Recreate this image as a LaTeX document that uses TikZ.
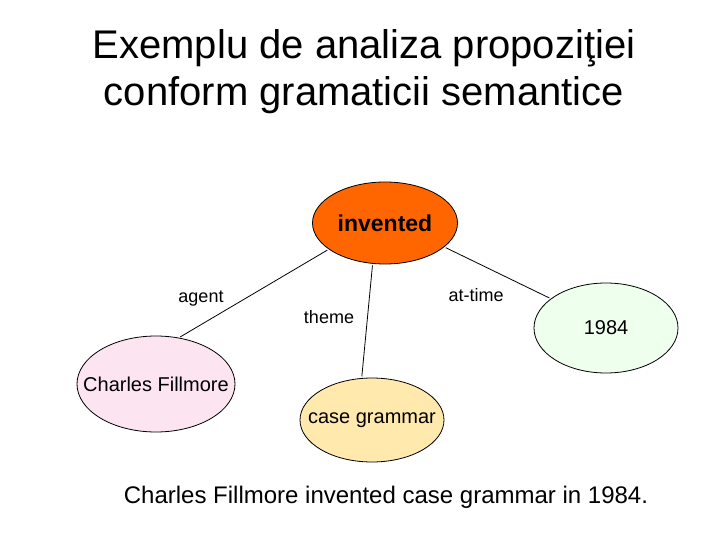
\documentclass[tikz,border=0pt]{standalone}
\usepackage{fontspec}
\setmainfont{Liberation Sans}
\usetikzlibrary{shapes.geometric}

\definecolor{inventedfill}{RGB}{255,102,0}
\definecolor{agentfill}{RGB}{253,228,241}
\definecolor{themefill}{RGB}{255,233,173}
\definecolor{timefill}{RGB}{238,255,238}

\begin{document}
\begin{tikzpicture}[
  x=1pt,
  y=-1pt,
  inner sep=0pt,
  outer sep=0pt,
  concept/.style={
    ellipse,
    draw,
    line width=.8pt,
    label={[font=\fontsize{20}{24}\selectfont]center:#1},
  },
  role/.style={
    anchor=base,
    font=\fontsize{18}{22}\selectfont,
  },
  link/.style={
    draw,
    line width=.8pt,
    shorten <=2pt,
    shorten >=2pt,
  },
]
  \useasboundingbox (0, 0) rectangle (720, 540);

  % title
  \path[every node/.append style={anchor=base, font=\fontsize{40}{46}\selectfont}]
    (364, 59) node (title1) {Exemplu de analiza propoziţiei}
    (364, 106) node (title2) {conform gramaticii semantice}
  ;

  % concepts
  \node[concept={}, fill=inventedfill, minimum width=145, minimum height=82,
    label={[font=\fontsize{23}{26}\selectfont\bfseries]center:invented}]
    (invented) at (385, 223) {};
  \node[concept=Charles Fillmore, fill=agentfill, minimum width=158, minimum height=96]
    (charles) at (156, 384) {};
  \node[concept=case grammar, fill=themefill, minimum width=144, minimum height=84]
    (grammar) at (372, 420) {};
  \node[concept=1984, fill=timefill, minimum width=144, minimum height=90]
    (year) at (606, 328) {};

  % links
  \path[link] (invented.205) -- (charles.64);
  \path[link] (invented.253) -- (grammar.104);
  \path[link] (invented.338) -- (year.152);

  \node[role] (agent) at (201, 302) {agent};
  \node[role] (theme) at (329, 323) {theme};
  \node[role] (attime) at (476, 301) {at-time};

  % sentence
  \node[anchor=base, font=\fontsize{24}{28}\selectfont] (sentence) at (386, 503)
    {Charles Fillmore invented case grammar in 1984.};
\end{tikzpicture}
\end{document}
